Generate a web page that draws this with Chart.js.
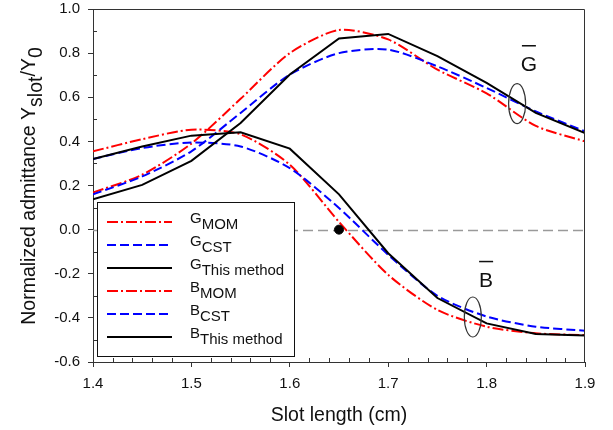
<!DOCTYPE html>
<html>
<head>
<meta charset="utf-8">
<script src="https://cdn.jsdelivr.net/npm/chart.js@4.4.0/dist/chart.umd.min.js"></script>
<style>
html, body { margin: 0; padding: 0; background: #fff; }
#wrap { width: 613px; height: 430px; }
</style>
</head>
<body>
<div id="wrap"><canvas id="admChart" width="613" height="430"></canvas></div>
<script>
// slot length (cm) and normalized admittance values
const slotLength = [1.40, 1.45, 1.50, 1.55, 1.60, 1.65, 1.70, 1.75, 1.80, 1.85, 1.90];

const gMom  = [0.168, 0.249, 0.390, 0.593, 0.800, 0.905, 0.862, 0.725, 0.618, 0.470, 0.400];
const gCst  = [0.160, 0.241, 0.355, 0.529, 0.703, 0.800, 0.816, 0.740, 0.642, 0.536, 0.445];
const gThis = [0.138, 0.203, 0.312, 0.483, 0.703, 0.866, 0.887, 0.786, 0.665, 0.529, 0.438];

const bMom  = [0.355, 0.410, 0.453, 0.432, 0.294, 0.035, -0.205, -0.364, -0.440, -0.470, -0.478];
const bCst  = [0.320, 0.370, 0.395, 0.377, 0.279, 0.098, -0.114, -0.300, -0.394, -0.440, -0.458];
const bThis = [0.320, 0.377, 0.426, 0.441, 0.367, 0.160, -0.107, -0.310, -0.425, -0.473, -0.480];

// the black dot where B crosses zero
const resonancePoint = [{ x: 1.65, y: 0 }];

const xTicks = [1.4, 1.5, 1.6, 1.7, 1.8, 1.9];
const yTicks = [-0.6, -0.4, -0.2, 0.0, 0.2, 0.4, 0.6, 0.8, 1.0];

const legendMain = ['G', 'G', 'G', 'B', 'B', 'B'];
const legendSub  = ['MOM', 'CST', 'This method', 'MOM', 'CST', 'This method'];

// where the G / B bracket labels sit, in data units
const groupLabels = [
    { text: 'G', ringX: 1.831, ringY: 0.571, textX: 1.843, textY: 0.72 },
    { text: 'B', ringX: 1.786, ringY: -0.396, textX: 1.7995, textY: -0.258 }
];

const RED = '#ff0000';
const BLUE = '#0000ff';
const BLACK = '#000000';
const DASH_DOT = [11, 3, 2, 3];
const DASHED = [9, 4];
const FONT = '"Liberation Sans", Arial, sans-serif';

function pts(vals) {
    return slotLength.map((x, i) => ({ x: x, y: vals[i] }));
}

function line(label, vals, color, dash, order, tension) {
    return {
        label: label,
        data: pts(vals),
        borderColor: color,
        backgroundColor: color,
        borderDash: dash,
        borderWidth: 2,
        pointRadius: 0,
        fill: false,
        tension: tension,
        order: order
    };
}

const seriesStyle = [
    { color: RED, dash: DASH_DOT },
    { color: BLUE, dash: DASHED },
    { color: BLACK, dash: [] },
    { color: RED, dash: DASH_DOT },
    { color: BLUE, dash: DASHED },
    { color: BLACK, dash: [] }
];

// draws text runs where some runs are subscripts
function drawRuns(ctx, runs, x, y, size, subShift) {
    ctx.font = size + 'px ' + FONT;
    let w = 0;
    runs.forEach(r => { w += ctx.measureText(r.t).width; });
    let cx = x - w / 2;
    ctx.textAlign = 'left';
    runs.forEach(r => {
        ctx.fillText(r.t, cx, y + (r.sub ? subShift : 0));
        cx += ctx.measureText(r.t).width;
    });
}

const decorations = {
    id: 'decorations',
    beforeDatasetsDraw(chart) {
        const { ctx, chartArea: a, scales: { y } } = chart;
        const y0 = Math.round(y.getPixelForValue(0)) + 0.5;
        ctx.save();
        ctx.strokeStyle = '#9a9a9a';
        ctx.lineWidth = 1.5;
        ctx.setLineDash([10, 5]);
        ctx.beginPath();
        ctx.moveTo(a.left, y0);
        ctx.lineTo(a.right, y0);
        ctx.stroke();
        ctx.restore();
    },
    afterDatasetsDraw(chart) {
        const { ctx, scales: { x, y } } = chart;
        ctx.save();
        groupLabels.forEach(g => {
            // ring around the bundle of curves
            ctx.strokeStyle = '#333';
            ctx.lineWidth = 1.2;
            ctx.setLineDash([]);
            ctx.beginPath();
            ctx.ellipse(x.getPixelForValue(g.ringX), y.getPixelForValue(g.ringY), 8.5, 20, 0, 0, Math.PI * 2);
            ctx.stroke();
            // letter with overbar
            const tx = x.getPixelForValue(g.textX);
            const ty = y.getPixelForValue(g.textY);
            ctx.fillStyle = '#111';
            ctx.font = '21px ' + FONT;
            ctx.textAlign = 'center';
            ctx.textBaseline = 'alphabetic';
            ctx.fillText(g.text, tx, ty);
            ctx.strokeStyle = '#111';
            ctx.lineWidth = 1.5;
            ctx.beginPath();
            ctx.moveTo(tx - 7, ty - 25);
            ctx.lineTo(tx + 7, ty - 25);
            ctx.stroke();
        });
        ctx.restore();
    },
    afterDraw(chart) {
        const { ctx, chartArea: a, scales: { x, y } } = chart;
        ctx.save();
        ctx.strokeStyle = '#333';
        ctx.lineWidth = 1;
        ctx.setLineDash([]);

        // top and right edges of the frame
        ctx.beginPath();
        ctx.moveTo(a.left, a.top + 0.5);
        ctx.lineTo(a.right - 0.5, a.top + 0.5);
        ctx.lineTo(a.right - 0.5, a.bottom);
        ctx.stroke();

        // minor ticks pointing inward
        ctx.beginPath();
        for (let i = 0; i < yTicks.length - 1; i++) {
            const py = Math.round(y.getPixelForValue((yTicks[i] + yTicks[i + 1]) / 2)) + 0.5;
            ctx.moveTo(a.left, py);
            ctx.lineTo(a.left + 4, py);
        }
        for (let i = 0; i < xTicks.length - 1; i++) {
            for (let k = 1; k < 5; k++) {
                const v = xTicks[i] + (xTicks[i + 1] - xTicks[i]) * k / 5;
                const px = Math.round(x.getPixelForValue(v)) + 0.5;
                ctx.moveTo(px, a.bottom);
                ctx.lineTo(px, a.bottom - 4);
            }
        }
        ctx.stroke();

        // legend box
        const lx = 97.5, ly = 202.5, lw = 197, lh = 154;
        ctx.fillStyle = '#fff';
        ctx.fillRect(lx, ly, lw, lh);
        ctx.strokeStyle = '#111';
        ctx.strokeRect(lx, ly, lw, lh);
        ctx.textBaseline = 'alphabetic';
        legendMain.forEach((m, i) => {
            const rowY = 222 + i * 23;
            const st = seriesStyle[i];
            ctx.strokeStyle = st.color;
            ctx.lineWidth = 2;
            ctx.setLineDash(st.dash);
            ctx.beginPath();
            ctx.moveTo(107, rowY);
            ctx.lineTo(172, rowY);
            ctx.stroke();
            ctx.setLineDash([]);
            ctx.fillStyle = '#111';
            ctx.font = '15px ' + FONT;
            ctx.textAlign = 'left';
            ctx.fillText(m, 190, rowY + 1);
            const mw = ctx.measureText(m).width;
            ctx.fillText(legendSub[i], 190 + mw, rowY + 6.5);
        });

        // axis titles
        ctx.fillStyle = '#111';
        ctx.textBaseline = 'alphabetic';
        drawRuns(ctx, [{ t: 'Slot length (cm)' }], (a.left + a.right) / 2, 421, 19.5, 0);

        ctx.translate(35, 186);
        ctx.rotate(-Math.PI / 2);
        drawRuns(ctx, [
            { t: 'Normalized admittance Y' },
            { t: 'slot', sub: true },
            { t: '/Y' },
            { t: '0', sub: true }
        ], 0, 0, 19.5, 7);
        ctx.restore();
    }
};

const tickFont = { family: FONT, size: 15 };

new Chart(document.getElementById('admChart'), {
    type: 'line',
    data: {
        datasets: [
            line('G MOM', gMom, RED, DASH_DOT, 3, 0.25),
            line('G CST', gCst, BLUE, DASHED, 2, 0.25),
            line('G This method', gThis, BLACK, [], 1, 0),
            line('B MOM', bMom, RED, DASH_DOT, 3, 0.25),
            line('B CST', bCst, BLUE, DASHED, 2, 0.25),
            line('B This method', bThis, BLACK, [], 1, 0),
            {
                label: 'zero crossing',
                data: resonancePoint,
                showLine: false,
                pointRadius: 4.5,
                pointBackgroundColor: BLACK,
                pointBorderColor: BLACK,
                order: 0
            }
        ]
    },
    options: {
        responsive: false,
        animation: false,
        layout: { padding: { left: 0, top: 9, right: 28, bottom: 0 } },
        plugins: {
            legend: { display: false },
            tooltip: { enabled: false }
        },
        scales: {
            x: {
                type: 'linear',
                min: 1.4,
                max: 1.9,
                afterBuildTicks: s => { s.ticks = xTicks.map(v => ({ value: v })); },
                afterFit: s => { s.height = 68; s.paddingLeft = 0; s.paddingRight = 0; },
                border: { display: true, color: '#333', width: 1 },
                grid: { drawOnChartArea: false, drawTicks: true, tickLength: 5, color: '#333' },
                ticks: {
                    color: '#111',
                    font: tickFont,
                    padding: 8,
                    maxRotation: 0,
                    callback: v => Number(v).toFixed(1)
                }
            },
            y: {
                min: -0.6,
                max: 1.0,
                afterBuildTicks: s => { s.ticks = yTicks.map(v => ({ value: v })); },
                afterFit: s => { s.width = 93; s.paddingTop = 0; s.paddingBottom = 0; },
                border: { display: true, color: '#333', width: 1 },
                grid: { drawOnChartArea: false, drawTicks: true, tickLength: 5, color: '#333' },
                ticks: {
                    color: '#111',
                    font: tickFont,
                    padding: 8,
                    callback: v => (Math.abs(v) < 1e-9 ? 0 : Number(v)).toFixed(1)
                }
            }
        }
    },
    plugins: [decorations]
});
</script>
</body>
</html>
